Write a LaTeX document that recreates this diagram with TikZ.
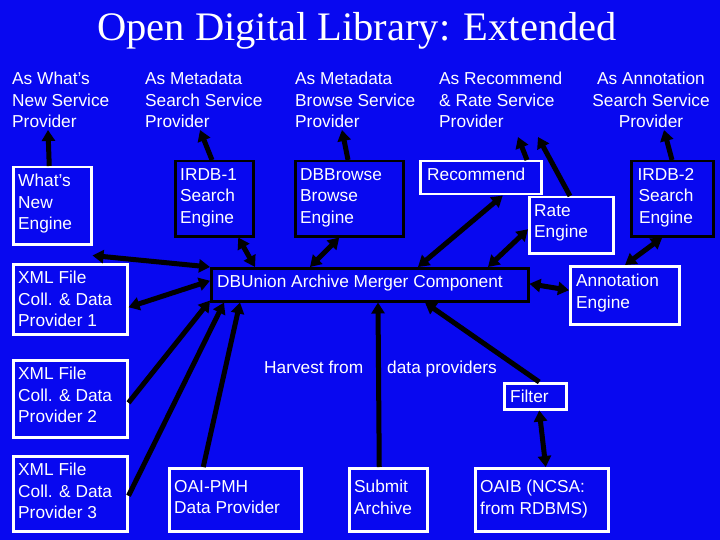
\documentclass[tikz,border=0pt]{standalone}
\usepackage{fontspec}
\setmainfont{Liberation Sans}
\newfontfamily\titlefont{Liberation Serif}
\usetikzlibrary{arrows.meta}
\definecolor{slideblue}{RGB}{8,8,240}
\tikzset{
  wbox/.style={draw=white,line width=2.5pt,fill=slideblue,anchor=north west,inner sep=0pt},
  kbox/.style={wbox,draw=black},
  lbl/.style={text=white,anchor=north west,align=left,inner sep=2pt,yshift=-3pt,font=\fontsize{17.3}{21.5}\selectfont},
  link/.style={line width=5pt,-{Triangle[length=11pt,width=13pt]}},
  dlink/.style={line width=5pt,{Triangle[length=11pt,width=13pt]}-{Triangle[length=11pt,width=13pt]}}
}
\begin{document}
\begin{tikzpicture}[x=1pt,y=-1pt]
\fill[slideblue] (0,0) rectangle (720,540);
\useasboundingbox (0,0) rectangle (720,540);
\node[text=white,font=\titlefont\fontsize{40.5}{42}\selectfont] (title) at (357,31) {Open Digital Library: Extended};
% service providers
\node[lbl] (pwn) at (10,67) {As What's\\New Service\\Provider};
\node[lbl] (psearch) at (143,67) {As Metadata\\Search Service\\Provider};
\node[lbl] (pbrowse) at (293,67) {As Metadata\\Browse Service\\Provider};
\node[lbl] (prec) at (437,67) {As Recommend\\\& Rate Service\\Provider};
\node[lbl,align=center,anchor=north] (pann) at (651,67) {As Annotation\\Search Service\\Provider};
\coordinate (twn) at (48,130);
\coordinate (tsearch) at (200,130);
\coordinate (tbrowse) at (342,130);
\coordinate (trec) at (518,137);
\coordinate (trate) at (538,137);
\coordinate (tann) at (664,130);
% engines
\node[wbox,minimum width=78pt,minimum height=77pt] (wn) at (12,166) {};
\node[lbl] at (16,169) {What's\\New\\Engine};
\node[kbox,minimum width=78pt,minimum height=75pt] (ir1) at (174,160) {};
\node[lbl] at (178,163) {IRDB-1\\Search\\Engine};
\node[kbox,minimum width=108pt,minimum height=75pt] (dbb) at (294,160) {};
\node[lbl] at (298,163) {DBBrowse\\Browse\\Engine};
\node[wbox,minimum width=121pt,minimum height=33pt] (rec) at (419,160) {};
\node[lbl] at (425,163) {Recommend};
\node[wbox,minimum width=84pt,minimum height=56pt] (rate) at (528,196) {};
\node[lbl] at (532,199) {Rate\\Engine};
\node[kbox,minimum width=82pt,minimum height=75pt] (ir2) at (630,160) {};
\node[lbl,align=center,anchor=north] at (666,163) {IRDB-2\\Search\\Engine};
% merger
\node[kbox,minimum width=317pt,minimum height=33pt] (dbu) at (210,267) {};
\node[lbl] at (215,270) {DBUnion Archive Merger Component};
\node[wbox,minimum width=109pt,minimum height=58pt] (ann) at (569,265) {};
\node[lbl] at (574,269) {Annotation\\Engine};
% data providers
\node[wbox,minimum width=114pt,minimum height=70pt] (x1) at (12,263) {};
\node[lbl] at (16,266) {XML File\\Coll. \& Data\\Provider 1};
\node[wbox,minimum width=114pt,minimum height=77pt] (x2) at (12,359) {};
\node[lbl] at (16,362) {XML File\\Coll. \& Data\\Provider 2};
\node[wbox,minimum width=114pt,minimum height=75pt] (x3) at (12,455) {};
\node[lbl] at (16,458) {XML File\\Coll. \& Data\\Provider 3};
\node[wbox,minimum width=62pt,minimum height=26pt] (filt) at (503,382) {};
\node[lbl] at (508,385) {Filter};
\node[wbox,minimum width=132pt,minimum height=63pt] (oai) at (168,467) {};
\node[lbl] at (172,475) {OAI-PMH\\Data Provider};
\node[wbox,minimum width=78pt,minimum height=63pt] (sub) at (348,467) {};
\node[lbl] at (352,475) {Submit\\Archive};
\node[wbox,minimum width=133pt,minimum height=63pt] (oaib) at (474,467) {};
\node[lbl] at (478,475) {OAIB (NCSA:\\from RDBMS)};
\node[lbl] (harv) at (262,356) {Harvest from};
\node[lbl] (dprov) at (385,356) {data providers};
% connectors
\draw[link] ([xshift=-3pt]wn.north) -- (twn);
\draw[link] ([xshift=38pt]ir1.north west) -- (tsearch);
\draw[link] ([xshift=54pt]dbb.north west) -- (tbrowse);
\draw[link] ([xshift=108pt]rec.north west) -- (trec);
\draw[link] ([xshift=42pt]rate.north west) -- (trate);
\draw[link] ([xshift=42pt]ir2.north west) -- (tann);
\draw[dlink] ([yshift=-10pt]wn.south east) -- (dbu.north west);
\draw[dlink] ([yshift=-8pt]x1.east) -- ([yshift=4pt]dbu.west);
\draw[link] ([yshift=-4pt]x2.east) -- ([yshift=2pt]dbu.south west);
\draw[link] ([yshift=-2pt]x3.east) -- ([xshift=14pt]dbu.south west);
\draw[link] ([xshift=-32pt]oai.north) -- ([xshift=30pt]dbu.south west);
\draw[link] ([xshift=-9pt]sub.north) -- ([xshift=168pt]dbu.south west);
\draw[link] ([xshift=4pt]filt.north) -- ([xshift=215pt]dbu.south west);
\draw[dlink] ([xshift=4pt]filt.south) -- ([xshift=4pt]oaib.north);
\draw[dlink] ([xshift=24pt]ir1.south) -- ([xshift=45pt]dbu.north west);
\draw[dlink] ([xshift=-10pt]dbb.south) -- ([xshift=100pt]dbu.north west);
\draw[dlink] ([xshift=22pt]rec.south) -- ([xshift=208pt]dbu.north west);
\draw[dlink] ([yshift=-4pt]rate.west) -- ([xshift=278pt]dbu.north west);
\draw[dlink] ([xshift=-10pt]ir2.south) -- ([xshift=56pt]ann.north west);
\draw[dlink] ([yshift=1pt]dbu.east) -- ([yshift=5pt]ann.west);
\end{tikzpicture}
\end{document}
